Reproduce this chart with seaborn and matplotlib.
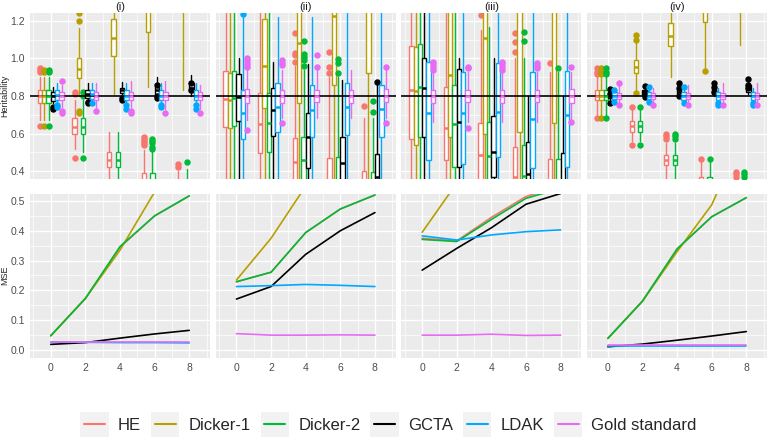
import matplotlib
matplotlib.use("Agg")
import matplotlib.pyplot as plt
from matplotlib.lines import Line2D
from matplotlib.patches import Rectangle
from matplotlib.legend_handler import HandlerBase
from matplotlib.ticker import MultipleLocator
import pandas as pd
import seaborn as sns

methods = ["HE", "Dicker-1", "Dicker-2", "GCTA", "LDAK", "Gold standard"]
palette = ["#F8766D", "#B79F00", "#00BA38", "#000000", "#00A9FF", "#E76BF3"]
n_snps = [0, 2, 4, 6, 8]
panel_names = ["(i)", "(ii)", "(iii)", "(iv)"]

# heritability boxplot stats, rows = methods, cols = n_snps
lo_i = [[0.67, 0.52, 0.30, 0.20, 0.15], [0.67, 0.80, 0.81, 0.85, 0.83], [0.67, 0.50, 0.30, 0.20, 0.15],
        [0.76, 0.78, 0.81, 0.79, 0.80], [0.76, 0.76, 0.76, 0.76, 0.76], [0.74, 0.73, 0.74, 0.73, 0.73]]
q1_i = [[0.76, 0.60, 0.42, 0.28, 0.22], [0.76, 0.895, 1.015, 1.14, 1.30], [0.76, 0.60, 0.42, 0.28, 0.22],
        [0.775, 0.79, 0.815, 0.81, 0.82], [0.78, 0.785, 0.78, 0.78, 0.78], [0.78, 0.78, 0.78, 0.78, 0.78]]
med_i = [[0.80, 0.635, 0.46, 0.32, 0.27], [0.80, 0.945, 1.11, 1.28, 1.45], [0.80, 0.635, 0.46, 0.32, 0.27],
         [0.80, 0.81, 0.83, 0.83, 0.84], [0.805, 0.81, 0.80, 0.80, 0.80], [0.80, 0.80, 0.80, 0.80, 0.80]]
q3_i = [[0.83, 0.68, 0.50, 0.39, 0.32], [0.83, 1.005, 1.21, 1.40, 1.60], [0.83, 0.68, 0.50, 0.39, 0.32],
        [0.82, 0.83, 0.845, 0.85, 0.87], [0.83, 0.83, 0.83, 0.83, 0.83], [0.82, 0.82, 0.82, 0.82, 0.82]]
hi_i = [[0.90, 0.78, 0.61, 0.51, 0.40], [0.90, 1.16, 1.50, 1.80, 2.00], [0.90, 0.78, 0.61, 0.51, 0.41],
        [0.85, 0.87, 0.875, 0.90, 0.91], [0.87, 0.87, 0.87, 0.87, 0.87], [0.86, 0.87, 0.88, 0.88, 0.86]]
out_i = [[[0.93, 0.94, 0.95, 0.64], [0.82, 0.81, 0.47], [], [0.58, 0.57, 0.56, 0.55, 0.54], [0.44, 0.42]],
         [[0.93, 0.94, 0.64], [1.20, 1.24, 0.72, 0.71], [], [], []],
         [[0.93, 0.94, 0.64], [0.82, 0.80, 0.47], [], [0.57, 0.56, 0.55, 0.53, 0.52], [0.45]],
         [[0.74, 0.73], [0.76, 0.77], [0.79, 0.78], [0.86, 0.80, 0.79], [0.87, 0.83]],
         [[0.75, 0.74], [0.76], [0.75, 0.73], [0.75, 0.74], [0.75, 0.73]],
         [[0.88, 0.72, 0.71], [0.72], [0.72, 0.71], [0.71], [0.71]]]

lo_ii = [[0.1] * 5, [0.1] * 5, [0.1] * 5, [0.1] * 5, [0.1] * 5, [0.67, 0.68, 0.68, 0.68, 0.68]]
q1_ii = [[0.636, 0.498, 0.30, 0.20, 0.15], [0.627, 0.734, 0.764, 0.859, 0.921], [0.64, 0.503, 0.31, 0.20, 0.15],
         [0.668, 0.587, 0.414, 0.30, 0.25], [0.569, 0.606, 0.58, 0.592, 0.58], [0.764, 0.764, 0.766, 0.764, 0.766]]
med_ii = [[0.782, 0.65, 0.45, 0.30, 0.25], [0.779, 0.962, 1.084, 1.227, 1.35], [0.788, 0.658, 0.459, 0.30, 0.26],
          [0.796, 0.725, 0.58, 0.444, 0.37], [0.708, 0.74, 0.725, 0.743, 0.729], [0.80, 0.80, 0.80, 0.80, 0.80]]
q3_ii = [[0.935, 0.814, 0.574, 0.467, 0.40], [0.924, 1.209, 1.40, 1.50, 1.60], [0.935, 0.818, 0.58, 0.473, 0.396],
         [0.917, 0.841, 0.708, 0.583, 0.49], [0.832, 0.871, 0.859, 0.868, 0.859], [0.836, 0.832, 0.834, 0.832, 0.836]]
hi_ii = [[1.6, 1.6, 0.96, 0.90, 0.68], [1.6, 1.6, 1.8, 1.8, 1.8], [1.6, 1.6, 0.94, 0.90, 0.68],
         [1.0, 0.98, 0.97, 0.885, 0.87], [1.22, 1.22, 1.22, 1.3, 1.3], [0.94, 0.94, 0.94, 0.94, 0.94]]
out_ii = [[[], [], [1.134, 1.031, 1.019, 0.983], [1.036, 0.956, 0.921], [0.747]],
          [[], [], [], [], []],
          [[], [], [1.095, 1.024, 1.01, 0.99, 0.96], [0.996, 0.978, 0.921], [0.775, 0.713]],
          [[], [], [], [], [0.876]],
          [[1.237], [], [], [], []],
          [[1.0, 0.985, 0.97, 0.956, 0.62], [0.99, 0.975, 0.965, 0.658], [1.02, 0.956], [], [0.956, 0.658]]]

lo_iii = [[0.1] * 5, [0.1] * 5, [0.1] * 5, [0.1] * 5, [0.1] * 5, [0.66] * 5]
q1_iii = [[0.569, 0.459, 0.352, 0.30, 0.25], [0.539, 0.583, 0.60, 0.61, 0.654], [0.58, 0.423, 0.352, 0.28, 0.25],
          [0.58, 0.423, 0.37, 0.30, 0.25], [0.459, 0.44, 0.476, 0.414, 0.423], [0.764, 0.766, 0.764, 0.766, 0.764]]
med_iii = [[0.832, 0.628, 0.485, 0.37, 0.32], [0.828, 0.912, 1.108, 1.35, 1.40], [0.85, 0.649, 0.482, 0.375, 0.32],
           [0.841, 0.663, 0.50, 0.384, 0.33], [0.708, 0.708, 0.716, 0.676, 0.70], [0.80] * 5]
q3_iii = [[1.067, 0.846, 0.654, 0.526, 0.462], [1.063, 1.35, 1.45, 1.55, 1.60], [1.077, 0.859, 0.663, 0.539, 0.466],
          [1.0, 0.942, 0.693, 0.556, 0.494], [0.983, 0.93, 0.974, 0.93, 0.935], [0.832, 0.834, 0.832, 0.834, 0.836]]
hi_iii = [[1.6, 1.6, 1.15, 1.0, 0.93], [1.8] * 5, [1.6, 1.6, 1.17, 1.0, 0.93],
          [1.3, 1.0, 1.0, 0.80, 0.80], [1.6] * 5, [0.93] * 5]
out_iii = [[[], [], [1.232], [1.134, 1.09, 1.036], [0.974]],
           [[], [], [], [], []],
           [[], [], [], [1.143, 1.095], [0.951]],
           [[], [], [], [], []],
           [[], [], [], [], []],
           [[0.983, 0.97, 0.956, 0.939], [0.956, 0.948, 0.631], [0.983, 0.97, 0.956, 0.939],
            [0.974, 0.962, 0.951], [0.956, 0.661]]]

lo_iv = [[0.70, 0.56, 0.36, 0.20, 0.10], [0.70, 0.82, 0.90, 0.935, 1.07], [0.70, 0.56, 0.36, 0.20, 0.10],
         [0.78, 0.79, 0.80, 0.80, 0.81], [0.77, 0.77, 0.77, 0.76, 0.76], [0.76, 0.76, 0.76, 0.75, 0.76]]
q1_iv = [[0.78, 0.61, 0.43, 0.33, 0.25], [0.78, 0.925, 1.065, 1.196, 1.40], [0.78, 0.61, 0.43, 0.33, 0.25],
         [0.79, 0.80, 0.805, 0.81, 0.82], [0.785, 0.785, 0.78, 0.78, 0.78], [0.785] * 5]
med_iv = [[0.80, 0.64, 0.46, 0.35, 0.28], [0.80, 0.955, 1.12, 1.32, 1.50], [0.80, 0.64, 0.46, 0.35, 0.28],
          [0.80, 0.815, 0.82, 0.83, 0.84], [0.80] * 5, [0.80] * 5]
q3_iv = [[0.83, 0.665, 0.485, 0.37, 0.31], [0.83, 0.99, 1.19, 1.40, 1.60], [0.83, 0.665, 0.485, 0.37, 0.31],
         [0.82, 0.83, 0.84, 0.85, 0.86], [0.82] * 5, [0.815] * 5]
hi_iv = [[0.90, 0.74, 0.55, 0.46, 0.36], [0.90, 1.10, 1.40, 1.60, 1.80], [0.90, 0.74, 0.55, 0.46, 0.36],
         [0.83, 0.85, 0.86, 0.87, 0.89], [0.84, 0.84, 0.84, 0.84, 0.84], [0.87, 0.84, 0.86, 0.87, 0.87]]
out_iv = [[[0.95, 0.93, 0.915, 0.68], [0.743, 0.539], [0.60, 0.587, 0.572], [0.462], [0.396, 0.384, 0.37]],
          [[0.95, 0.93, 0.915, 0.68], [1.125, 1.10, 0.814], [], [0.935], []],
          [[0.95, 0.93, 0.915, 0.68], [0.743, 0.539], [0.60, 0.587, 0.572], [0.462], [0.396, 0.384, 0.37]],
          [[0.835, 0.81, 0.76], [0.853, 0.82, 0.793], [0.868, 0.84, 0.80], [0.87, 0.85, 0.82], [0.89, 0.86, 0.84]],
          [[0.83, 0.77], [0.85, 0.77], [0.85, 0.76], [0.76, 0.75], [0.76, 0.75]],
          [[0.87, 0.752], [0.752], [0.75], [0.75], [0.752]]]

# mean squared error lines, rows = methods
mse_i = [[0.048, 0.173, 0.345, 0.45, 0.517], [0.048, 0.173, 0.335, 0.53, 0.75], [0.048, 0.173, 0.347, 0.45, 0.517],
         [0.019, 0.025, 0.040, 0.054, 0.066], [0.027, 0.026, 0.025, 0.025, 0.024], [0.028] * 5]
mse_ii = [[0.229, 0.261, 0.394, 0.473, 0.52], [0.235, 0.375, 0.55, 0.80, 1.0], [0.229, 0.261, 0.394, 0.473, 0.52],
          [0.171, 0.213, 0.321, 0.40, 0.461], [0.213, 0.216, 0.22, 0.217, 0.213], [0.055, 0.05, 0.05, 0.051, 0.05]]
mse_iii = [[0.375, 0.366, 0.445, 0.515, 0.55], [0.395, 0.56, 0.80, 1.0, 1.2], [0.371, 0.364, 0.438, 0.509, 0.542],
           [0.268, 0.341, 0.41, 0.489, 0.525], [0.383, 0.369, 0.386, 0.397, 0.403], [0.05, 0.05, 0.053, 0.049, 0.05]]
mse_iv = [[0.039, 0.164, 0.339, 0.447, 0.511], [0.039, 0.164, 0.33, 0.487, 0.75], [0.039, 0.164, 0.339, 0.447, 0.511],
          [0.011, 0.020, 0.033, 0.047, 0.062], [0.015] * 5, [0.016] * 5]

box_sets = [(lo_i, q1_i, med_i, q3_i, hi_i, out_i), (lo_ii, q1_ii, med_ii, q3_ii, hi_ii, out_ii),
            (lo_iii, q1_iii, med_iii, q3_iii, hi_iii, out_iii), (lo_iv, q1_iv, med_iv, q3_iv, hi_iv, out_iv)]
mse_sets = [mse_i, mse_ii, mse_iii, mse_iv]


class KeyHandler(HandlerBase):
    # ggplot style legend key: grey square with a short line
    def create_artists(self, legend, orig_handle, xdescent, ydescent, width, height, fontsize, trans):
        bg = Rectangle((-xdescent, -ydescent), width, height, facecolor="#F2F2F2",
                       edgecolor="none", transform=trans)
        y = -ydescent + height / 2
        ln = Line2D([-xdescent + 0.13 * width, -xdescent + 0.87 * width], [y, y],
                    color=orig_handle.get_color(), lw=1.5, transform=trans)
        return [bg, ln]


sns.set_theme(style="darkgrid", rc={"axes.facecolor": "#EBEBEB", "grid.color": "white",
                                    "grid.linewidth": 1.0, "axes.edgecolor": "none"})
plt.rcParams["font.family"] = ["Liberation Sans", "DejaVu Sans"]

fig = plt.figure(figsize=(7.68, 4.41), dpi=100)
W, H = 768, 441
left0, pw, stride = 30, 180, 185.7
offsets = [(k - 2.5) * 0.25 for k in range(6)]

for p in range(4):
    x0 = (left0 + p * stride) / W
    ax_top = fig.add_axes([x0, 1 - 178.5 / H, pw / W, 165 / H])
    ax_bot = fig.add_axes([x0, 1 - 357.5 / H, pw / W, 164 / H])

    lo, q1, med, q3, hi, out = box_sets[p]
    for m in range(6):
        c = palette[m]
        stats = []
        for g in range(5):
            stats.append(dict(whislo=lo[m][g], q1=q1[m][g], med=med[m][g], q3=q3[m][g],
                              whishi=hi[m][g], fliers=out[m][g]))
        ax_top.bxp(stats, positions=[x + offsets[m] for x in n_snps], widths=0.25,
                   patch_artist=True, showcaps=False, manage_ticks=False,
                   boxprops=dict(facecolor="white", edgecolor=c, lw=1.0),
                   medianprops=dict(color=c, lw=1.8),
                   whiskerprops=dict(color=c, lw=1.0),
                   flierprops=dict(marker="o", markerfacecolor=c, markeredgecolor=c,
                                   markersize=3.6, linestyle="none"))
    ax_top.axhline(0.8, color="black", lw=1.2)
    ax_top.set_xlim(-1.2, 9.2)
    ax_top.set_ylim(0.36, 1.24)
    ax_top.set_yticks([0.4, 0.6, 0.8, 1.0, 1.2])
    ax_top.yaxis.set_minor_locator(MultipleLocator(0.1))
    ax_top.set_xticks(n_snps)
    ax_top.xaxis.set_minor_locator(MultipleLocator(1))
    ax_top.set_title(panel_names[p], fontsize=8, pad=2.5, color="#1A1A1A")

    rows = []
    for m in range(6):
        for g in range(5):
            rows.append({"method": methods[m], "snps": n_snps[g], "mse": mse_sets[p][m][g]})
    df = pd.DataFrame(rows)
    sns.lineplot(data=df, x="snps", y="mse", hue="method", hue_order=methods, palette=palette,
                 lw=1.2, legend=False, ax=ax_bot)
    ax_bot.set_xlim(-1.2, 9.2)
    ax_bot.set_ylim(-0.025, 0.525)
    ax_bot.set_xticks(n_snps)
    ax_bot.set_xticklabels([str(v) for v in n_snps])
    ax_bot.xaxis.set_minor_locator(MultipleLocator(1))
    ax_bot.set_yticks([0.0, 0.1, 0.2, 0.3, 0.4, 0.5])
    ax_bot.set_yticklabels(["0.0", "0.1", "0.2", "0.3", "0.4", "0.5"])
    ax_bot.yaxis.set_minor_locator(MultipleLocator(0.05))
    ax_bot.set_xlabel("")
    ax_bot.set_ylabel("")

    for ax in (ax_top, ax_bot):
        ax.grid(which="minor", color="white", lw=0.5)
        ax.grid(which="major", color="white", lw=1.0)
        ax.set_axisbelow(True)
        ax.tick_params(which="minor", length=0)
        ax.tick_params(which="major", length=2.5, width=0.6, color="#333333",
                       labelcolor="#4D4D4D", labelsize=7.5, pad=1.2)
        for s in ax.spines.values():
            s.set_visible(False)
    ax_top.tick_params(axis="x", length=0, labelbottom=False)
    if p > 0:
        ax_top.tick_params(axis="y", length=0, labelleft=False)
        ax_bot.tick_params(axis="y", length=0, labelleft=False)
    else:
        ax_top.set_yticklabels(["0.4", "0.6", "0.8", "1.0", "1.2"])

fig.text(5 / W, 1 - 96 / H, "Heritability", rotation=90, fontsize=6.5, ha="center", va="center")
fig.text(5 / W, 1 - 275 / H, "MSE", rotation=90, fontsize=6.5, ha="center", va="center")

handles = [Line2D([], [], color=c) for c in palette]
fig.legend(handles, methods, loc="center", bbox_to_anchor=(0.506, 1 - 424.5 / H), ncol=6,
           frameon=False, fontsize=12, handlelength=1.7, handleheight=2.0,
           handletextpad=0.55, columnspacing=0.6, borderpad=0, borderaxespad=0,
           handler_map={Line2D: KeyHandler()})

fig.savefig("out.png", dpi=100)
